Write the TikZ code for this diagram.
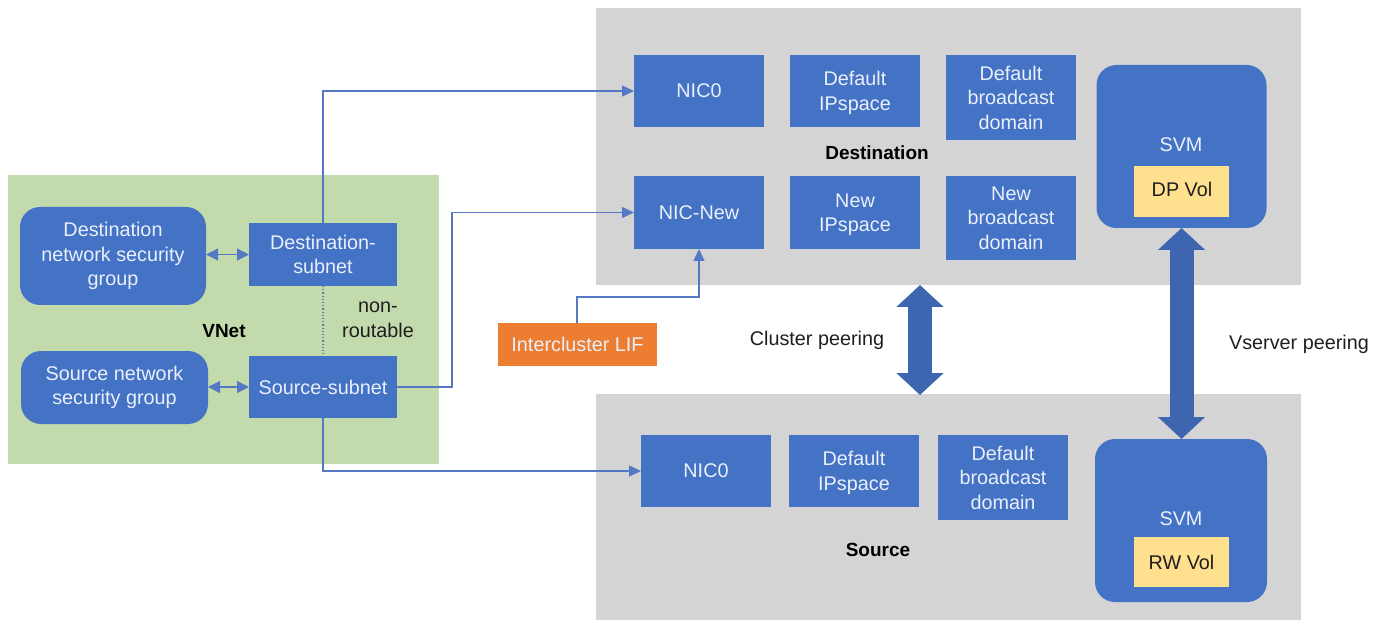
\documentclass[tikz,border=0pt]{standalone}
\usepackage{fontspec}
\setmainfont{Liberation Sans}
\usetikzlibrary{arrows.meta,calc}
\definecolor{boxblue}{HTML}{4472C4}
\definecolor{arrowblue}{HTML}{3D65B0}
\definecolor{wireblue}{HTML}{5578C4}
\definecolor{panelgray}{HTML}{D4D4D4}
\definecolor{vnetgreen}{HTML}{C3DBAC}
\definecolor{lifor}{HTML}{ED7D31}
\definecolor{volyel}{HTML}{FFE08E}
\definecolor{txtdark}{HTML}{1E1E1E}
\definecolor{txtlight}{HTML}{EAF0FB}
\tikzset{
  x=1pt,y=-1pt,
  every node/.style={font=\fontsize{19.8}{24.5}\selectfont,inner sep=0pt,outer sep=0pt,align=center},
  panel/.style={fill=#1,draw=none,anchor=center},
  blubox/.style={fill=boxblue,text=txtlight,draw=none},
  lowtext/.style={text depth=0pt},
  roundbox/.style={blubox,rounded corners=20pt},
  lbl/.style={text=txtdark},
  boldlbl/.style={text=black,font=\fontsize{19}{23}\selectfont\bfseries},
  wire/.style={draw=wireblue,line width=1.2pt,-{Triangle[length=12pt,width=11pt]}},
  wireplain/.style={draw=wireblue,line width=1.2pt},
  dbl/.style={draw=wireblue,line width=1.2pt,{Triangle[length=12pt,width=12pt]}-{Triangle[length=12pt,width=12pt]}},
  peer/.style={draw=arrowblue,line width=24pt,{Triangle[length=22pt,width=46pt]}-{Triangle[length=22pt,width=46pt]}},
}
\begin{document}
\begin{tikzpicture}
\useasboundingbox (0,0) rectangle (1384,620);
% panels
\node[panel=panelgray,minimum width=705pt,minimum height=277pt] (destpanel) at (948.5,146.5) {};
\node[panel=panelgray,minimum width=705pt,minimum height=226pt] (srcpanel) at (948.5,507) {};
\node[panel=vnetgreen,minimum width=431pt,minimum height=289pt] (vnet) at (223.5,319.5) {};
% connector anchors that are not node centres
\coordinate (clusterTop) at (920,285);
\coordinate (clusterBot) at (920,395);
\coordinate (bendB) at (452,387);
\coordinate (lifOut) at (577,323);
\coordinate (bendE) at (577,297);
% boxes: destination
\node[blubox,minimum width=130pt,minimum height=72pt] (dnic) at (699,91) {NIC0};
\node[blubox,lowtext,minimum width=130pt,minimum height=72pt] (dip) at (855,91) {Default\\IPspace};
\node[blubox,minimum width=130pt,minimum height=85pt] (dbd) at (1011,97.5) {Default\\broadcast\\domain};
\node[blubox,minimum width=130pt,minimum height=73pt] (nnic) at (699,212.5) {NIC-New};
\node[blubox,lowtext,minimum width=130pt,minimum height=73pt] (nip) at (855,212.5) {New\\IPspace};
\node[blubox,minimum width=130pt,minimum height=84pt] (nbd) at (1011,218) {New\\broadcast\\domain};
\node[roundbox,minimum width=170pt,minimum height=163pt] (dsvm) at (1181.5,146.5) {};
\node[text=txtlight] (dsvmt) at (1181,145) {SVM};
\node[fill=volyel,text=txtdark,minimum width=95pt,minimum height=51pt] (dvol) at (1181.5,191.5) {};
\node[text=txtdark] (dvolt) at (1182,189) {DP Vol};
% boxes: source
\node[blubox,minimum width=130pt,minimum height=72pt] (snic) at (706,471) {NIC0};
\node[blubox,lowtext,minimum width=130pt,minimum height=72pt] (sip) at (854,471) {Default\\IPspace};
\node[blubox,minimum width=130pt,minimum height=85pt] (sbd) at (1003,477.5) {Default\\broadcast\\domain};
\node[roundbox,minimum width=172pt,minimum height=163pt] (ssvm) at (1181,520.5) {};
\node[text=txtlight] (ssvmt) at (1181,519) {SVM};
\node[fill=volyel,text=txtdark,minimum width=95pt,minimum height=50pt] (svol) at (1181.5,562) {RW Vol};
% boxes: VNet
\node[roundbox,minimum width=186pt,minimum height=98pt] (dnsg) at (113,256) {Destination\\network security\\group};
\node[roundbox,minimum width=187pt,minimum height=73pt] (snsg) at (114.5,387.5) {Source network\\security group};
\node[blubox,minimum width=148pt,minimum height=63pt] (dsub) at (323,254.5) {Destination-\\subnet};
\node[blubox,minimum width=148pt,minimum height=62pt] (ssub) at (323,387) {Source-subnet};
\node[fill=lifor,text=txtlight,minimum width=159pt,minimum height=43pt] (lif) at (577.5,344.5) {Intercluster LIF};
% connectors
\draw[wire] (dsub.north) |- (dnic.west);
\draw[wire] (ssub.east) -| (bendB |- nnic.west) -- (nnic.west);
\draw[wire] (ssub.south) |- (snic.west);
\draw[wire] (lifOut) -- (bendE) -| (nnic.south);
\draw[wireplain,dotted] (dsub.south) -- (ssub.north);
\draw[dbl] (dnsg.east |- dsub.west) -- (dsub.west);
\draw[dbl] (snsg.east |- ssub.west) -- (ssub.west);
\draw[peer] (clusterTop) -- (clusterBot);
\draw[peer] (dsvm.south) -- (ssvm.north -| dsvm.south);
% labels
\node[boldlbl] (vnetl) at (224,331) {VNet};
\node[lbl] (nonr) at (378,320) {non-\\routable};
\node[boldlbl] (destl) at (877,153) {Destination};
\node[boldlbl] (srcl) at (878,550) {Source};
\node[lbl] (clusterl) at (817,340) {Cluster peering};
\node[lbl] (vsl) at (1299,344) {Vserver peering};
\end{tikzpicture}
\end{document}
